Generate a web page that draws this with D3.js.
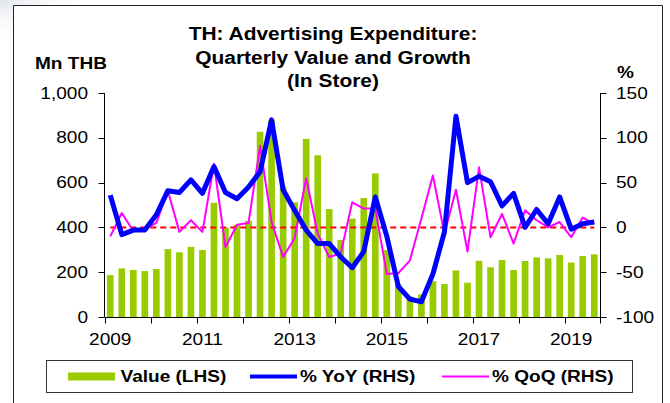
<!DOCTYPE html>
<html><head><meta charset="utf-8">
<script src="https://cdn.jsdelivr.net/npm/d3@7/dist/d3.min.js"></script>
<style>
html,body{margin:0;padding:0;background:#fff;}
svg{display:block;font-family:"Liberation Sans",Arial,sans-serif;}
</style></head>
<body>
<svg id="chart" width="670" height="403"></svg>
<script>
// ---- data ----
const quarters = [];
for (let y = 2009; y <= 2019; y++) for (let q = 1; q <= 4; q++) quarters.push(y + "Q" + q);
const categories = quarters.slice(0, 43); // 2009Q1 .. 2019Q3
const valueLHS = [187,217,210,205, 214,303,289,313, 299,510,399,412, 430,827,879,582,
  512,795,722,482, 344,439,531,641, 299,147,92,101, 160,147,208,153,
  251,222,254,210, 250,266,262,277, 243,272,280];
const yoyRHS = [36,-8,-3,-3, 14,41,39,53, 38,68,39,32, 45,62,120,42,
  19,-3,-18,-18, -33,-45,-27,34, -10,-66,-80,-83, -52,-5,124,50,
  57,51,24,38, 0,20,4,34, -2,4,6];
const qoqRHS = [-10,16,-4,-2, 5,41,-5,8, -5,71,-22,3, 5,91,6,-33,
  -12,55,-7,-33, -29,28,21,21, -52,-51,-37,10, 58,-7,42,-27,
  67,-11,15,-18, 19,8,0,6, -11,11,4];
const leftTicks = [0,200,400,600,800,1000];
const leftTickLabels = ["0","200","400","600","800","1,000"];
const rightTicks = [-100,-50,0,50,100,150];
const yearLabels = ["2009","2011","2013","2015","2017","2019"];
const titleLines = ["TH: Advertising Expenditure:", "Quarterly Value and Growth", "(In Store)"];
const legendItems = ["Value (LHS)", "% YoY (RHS)", "% QoQ (RHS)"];

// ---- setup ----
const svg = d3.select("#chart");
const SX = 1.19; // horizontal text stretch seen in reference
function txt(g, x, y, s, opts) {
  const t = g.append("text")
    .attr("transform", `translate(${x},${y}) scale(${SX},1)`)
    .attr("font-size", opts.size || 16)
    .attr("font-weight", opts.bold ? "bold" : "normal")
    .attr("text-anchor", opts.anchor || "start")
    .attr("fill", "#000")
    .text(s);
  if (opts.dy) t.attr("dy", opts.dy);
  return t;
}

// faint corner shading outside frame
const defs = svg.append("defs");
const rg = defs.append("radialGradient").attr("id", "corner").attr("cx", "0").attr("cy", "0").attr("r", "1");
rg.append("stop").attr("offset", "0").attr("stop-color", "#dfe3ea");
rg.append("stop").attr("offset", "1").attr("stop-color", "#ffffff").attr("stop-opacity", 0);
svg.append("rect").attr("x", 0).attr("y", 0).attr("width", 90).attr("height", 40).attr("fill", "url(#corner)");

// frame
svg.append("path").attr("d", "M13.5,410 V5.5 H662.5 V410").attr("fill", "#fff").attr("stroke", "#222").attr("stroke-width", 1);

const x = d3.scaleBand().domain(categories).range([104.5, 600]).paddingInner(0.42).paddingOuter(0.21);
const xc = d => x(d) + x.bandwidth() / 2;
const yL = d3.scaleLinear().domain([0, 1000]).range([317, 93]);
const yR = d3.scaleLinear().domain([-100, 150]).range([317, 93]);

// bars
svg.append("g").selectAll("rect").data(valueLHS).join("rect")
  .attr("x", (d, i) => x(categories[i]))
  .attr("width", x.bandwidth())
  .attr("y", d => yL(d))
  .attr("height", d => yL(0) - yL(d))
  .attr("fill", "#99CC00");

// zero line (dashed red)
const zeroLine = d3.line().x((d, i) => xc(categories[i])).y(() => yR(0));
svg.append("path").datum(categories).attr("d", zeroLine)
  .attr("fill", "none").attr("stroke", "#FF0000").attr("stroke-width", 2).attr("stroke-dasharray", "6,4");

// lines
const lineR = d3.line().x((d, i) => xc(categories[i])).y(d => yR(d));
svg.append("path").datum(qoqRHS).attr("d", lineR)
  .attr("fill", "none").attr("stroke", "#FF00FF").attr("stroke-width", 2).attr("stroke-linejoin", "round");
svg.append("path").datum(yoyRHS).attr("d", lineR)
  .attr("fill", "none").attr("stroke", "#0000FF").attr("stroke-width", 5).attr("stroke-linejoin", "round");

// axes
const axG = svg.append("g").attr("stroke", "#000").attr("stroke-width", 1);
axG.append("line").attr("x1", 104.5).attr("x2", 104.5).attr("y1", yL(1000)).attr("y2", yL(0));
axG.append("line").attr("x1", 600.5).attr("x2", 600.5).attr("y1", yR(150)).attr("y2", yR(-100));
axG.append("line").attr("x1", 104.5).attr("x2", 600.5).attr("y1", 317.5).attr("y2", 317.5);
leftTicks.forEach(t => axG.append("line").attr("x1", 98.5).attr("x2", 104.5).attr("y1", Math.round(yL(t)) + 0.5).attr("y2", Math.round(yL(t)) + 0.5));
rightTicks.forEach(t => axG.append("line").attr("x1", 600.5).attr("x2", 606.5).attr("y1", Math.round(yR(t)) + 0.5).attr("y2", Math.round(yR(t)) + 0.5));
categories.forEach((c, i) => { if (i % 4 === 0) { const xx = Math.round(x(c) - x.step() * 0.21) + 0.5; axG.append("line").attr("x1", xx).attr("x2", xx).attr("y1", 317.5).attr("y2", 323.5); } });
{ const xx = 600.5; axG.append("line").attr("x1", xx).attr("x2", xx).attr("y1", 317.5).attr("y2", 323.5); }

const tg = svg.append("g");
leftTicks.forEach((t, i) => txt(tg, 88, yL(t), leftTickLabels[i], {size: 16, anchor: "end", dy: "0.35em"}));
rightTicks.forEach(t => txt(tg, 616, yR(t), String(t), {size: 16, anchor: "start", dy: "0.35em"}));
yearLabels.forEach(yl => txt(tg, xc(yl + "Q1"), 345, yl, {size: 16, anchor: "middle"}));

// titles
txt(tg, 333, 40, titleLines[0], {size: 17.6, bold: true, anchor: "middle"});
txt(tg, 333, 64, titleLines[1], {size: 17.6, bold: true, anchor: "middle"});
txt(tg, 333, 87, titleLines[2], {size: 17.6, bold: true, anchor: "middle"});
txt(tg, 35, 69, "Mn THB", {size: 16, bold: true});
txt(tg, 617, 78, "%", {size: 16, bold: true});

// legend
const lg = svg.append("g");
lg.append("rect").attr("x", 46.5).attr("y", 360.5).attr("width", 586).attr("height", 32).attr("fill", "#fff").attr("stroke", "#333");
lg.append("rect").attr("x", 68).attr("y", 372.5).attr("width", 47).attr("height", 8).attr("fill", "#99CC00");
txt(lg, 120.5, 382, legendItems[0], {size: 16, bold: true});
lg.append("line").attr("x1", 250).attr("x2", 297).attr("y1", 376.5).attr("y2", 376.5).attr("stroke", "#0000FF").attr("stroke-width", 4);
txt(lg, 300, 382, legendItems[1], {size: 16, bold: true});
lg.append("line").attr("x1", 442).attr("x2", 489).attr("y1", 376.5).attr("y2", 376.5).attr("stroke", "#FF00FF").attr("stroke-width", 2);
txt(lg, 492, 382, legendItems[2], {size: 16, bold: true});
</script>
</body></html>
